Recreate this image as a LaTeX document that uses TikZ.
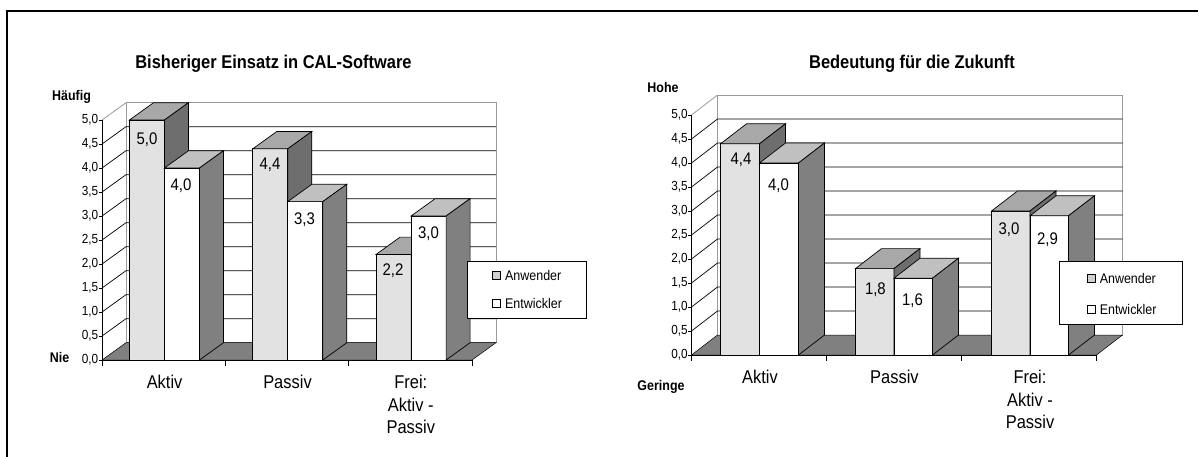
\documentclass[tikz,border=0pt]{standalone}
\usepackage{fontspec}
\setmainfont{Liberation Sans}
\definecolor{Afront}{HTML}{E2E2E2}
\definecolor{Atop}{HTML}{A8A8A8}
\definecolor{Aside}{HTML}{6E6E6E}
\definecolor{Efront}{HTML}{FFFFFF}
\definecolor{Etop}{HTML}{C0C0C0}
\definecolor{Eside}{HTML}{808080}
\definecolor{floorc}{HTML}{808080}
\definecolor{wallc}{HTML}{9A9A9A}
\definecolor{Aleg}{HTML}{D0D0D0}
\newcommand\chbar[4]{%
  \pgfmathsetmacro\xr{#1+#2}%
  \pgfmathsetmacro\yt{\yz-#3*\un}%
  \filldraw[barline,fill=#4front] (#1,\yz) rectangle (\xr,\yt);
  \filldraw[barline,fill=#4top] (#1,\yt) -- (\xr,\yt) -- ++(\ddx,\ddy) -- ([shift={(\ddx,\ddy)}]#1,\yt) -- cycle;
  \filldraw[barline,fill=#4side] (\xr,\yz) -- (\xr,\yt) -- ++(\ddx,\ddy) -- ([shift={(\ddx,\ddy)}]\xr,\yz) -- cycle;
}
\newcommand\chwall[1]{%
  \filldraw[fill=white,draw=wallc,line width=0.8pt] ({\xz+\ddx},{\yz+\ddy}) rectangle ({\xe+\ddx},{\yz+\ddy-5*\un});
  \draw[draw=wallc,line width=0.8pt] (\xz,{\yz-5*\un}) -- ++(\ddx,\ddy);
  \foreach \v in {0.5,1,...,4.5}
    \draw[gridline] (\xz,{\yz-\v*\un}) -- ++(\ddx,\ddy) -- ({\xe+\ddx},{\yz+\ddy-\v*\un});
  \filldraw[fill=floorc,draw=black,line width=0.5pt] (\xz,\yz) -- (\xe,\yz) -- ++(\ddx,\ddy) -- ({\xz+\ddx},{\yz+\ddy}) -- cycle;
}
\newcommand\chaxes[1]{%
  \draw[axisline] (\xz,\yz) -- (\xz,{\yz-5*\un});
  \foreach \v [count=\i] in {0,0.5,...,5.0}
    \draw[axisline] (\xz,{\yz-\v*\un}) -- ++(-3.5,0)
      node[ticklab,name=#1tick\i] {\pgfmathprintnumber[fixed,fixed zerofill,precision=1,use comma,assume math mode=true]{\v}};
  \draw[axisline] (\xz,\yz) -- (\xe,\yz);
  \pgfmathsetmacro\cw{(\xe-\xz)/3}%
  \foreach \k in {0,1,2,3}
    \draw[axisline] ({\xz+\k*\cw},\yz) -- ++(0,6);
}
\tikzset{
  barline/.style={draw=black,line width=0.7pt},
  gridline/.style={draw=black,line width=0.7pt},
  axisline/.style={draw=black,line width=0.8pt},
  txt/.style={inner sep=0pt,xscale=0.89,transform shape},
  ticklab/.style={txt,anchor=east,font=\fontsize{13.2}{15}\selectfont},
  vallab/.style={txt,font=\fontsize{16.8}{19}\selectfont},
  catlab/.style={txt,align=center,font=\fontsize{18.5}{22.5}\selectfont},
  titlelab/.style={txt,font=\bfseries\fontsize{18.5}{21}\selectfont},
  axword/.style={txt,font=\bfseries\fontsize{14}{16}\selectfont},
  legbox/.style={draw=black,fill=white,line width=0.8pt},
  legsq/.style={draw=black,line width=0.5pt,minimum size=7.6pt,inner sep=0pt},
  legtext/.style={txt,anchor=west,font=\fontsize{14}{16}\selectfont},
}
\begin{document}
\begin{tikzpicture}[x=1pt,y=-1pt]
\useasboundingbox (0,0) rectangle (1198,457);
% frame
\draw[line width=2pt] (6,11) -- (1198,11);
\draw[line width=2pt] (7,10) -- (7,457);

% ---------------- left chart ----------------
\def\xz{102}\def\yz{360}\def\un{48}\def\ddx{24}\def\ddy{-17.3}\def\xe{472}
\chwall{L}
\chbar{129.5}{35}{5.0}{A}
\chbar{164.5}{35}{4.0}{E}
\chbar{252.8}{35}{4.4}{A}
\chbar{287.8}{35}{3.3}{E}
\chbar{376.1}{35}{2.2}{A}
\chbar{411.1}{35}{3.0}{E}
\chaxes{L}
\node[legbox,minimum width=119pt,minimum height=57pt,inner sep=0pt] (Lleg) at (526.5,289.5) {};
\node[legsq,fill=Aleg] (LsqA) at (496.4,275.3) {};
\node[legsq,fill=white] (LsqE) at (496.4,303.3) {};
\node[legtext] (LtA) at (505,275.3) {Anwender};
\node[legtext] (LtE) at (505,303.3) {Entwickler};
\node[titlelab] (Ltitle) at (273.5,63.5) {Bisheriger Einsatz in CAL-Software};
\node[axword] (Lhi) at (71.5,96.7) {Häufig};
\node[axword] (Llo) at (59.5,357.7) {Nie};
\node[vallab] (Lv1) at (147,140) {5,0};
\node[vallab] (Lv2) at (181,185.5) {4,0};
\node[vallab] (Lv3) at (270,164.5) {4,4};
\node[vallab] (Lv4) at (304.5,220) {3,3};
\node[vallab] (Lv5) at (393,271) {2,2};
\node[vallab] (Lv6) at (428.5,233.5) {3,0};
\node[catlab] (Lc1) at (164.6,381.7) {Aktiv};
\node[catlab] (Lc2) at (287.5,381.7) {Passiv};
\node[catlab] (Lc3) at (410.8,404.5) {Frei:\\Aktiv -\\Passiv};

% ---------------- right chart ----------------
\def\xz{691.5}\def\yz{355}\def\un{48}\def\ddx{26}\def\ddy{-20}\def\xe{1096.5}
\chwall{R}
\chbar{720.5}{39}{4.4}{A}
\chbar{759.5}{39}{4.0}{E}
\chbar{855.5}{38.5}{1.8}{A}
\chbar{894}{38.5}{1.6}{E}
\chbar{991.5}{38.5}{3.0}{A}
\chbar{1030}{38.5}{2.9}{E}
\chaxes{R}
\node[legbox,minimum width=123pt,minimum height=62.5pt,inner sep=0pt] (Rleg) at (1121.2,293) {};
\node[legsq,fill=Aleg] (RsqA) at (1091.2,278.3) {};
\node[legsq,fill=white] (RsqE) at (1091.2,309.3) {};
\node[legtext] (RtA) at (1099.6,278.3) {Anwender};
\node[legtext] (RtE) at (1099.6,309.3) {Entwickler};
\node[titlelab] (Rtitle) at (912,63.5) {Bedeutung für die Zukunft};
\node[axword] (Rhi) at (663,87.3) {Hohe};
\node[axword] (Rlo) at (661,386.7) {Geringe};
\node[vallab] (Rv1) at (741,160) {4,4};
\node[vallab] (Rv2) at (778.5,185.7) {4,0};
\node[vallab] (Rv3) at (875.4,290) {1,8};
\node[vallab] (Rv4) at (912.5,301) {1,6};
\node[vallab] (Rv5) at (1009,230) {3,0};
\node[vallab] (Rv6) at (1047.5,239.3) {2,9};
\node[catlab] (Rc1) at (760,376.7) {Aktiv};
\node[catlab] (Rc2) at (894.4,376.7) {Passiv};
\node[catlab] (Rc3) at (1030,399.5) {Frei:\\Aktiv -\\Passiv};
\end{tikzpicture}
\end{document}
